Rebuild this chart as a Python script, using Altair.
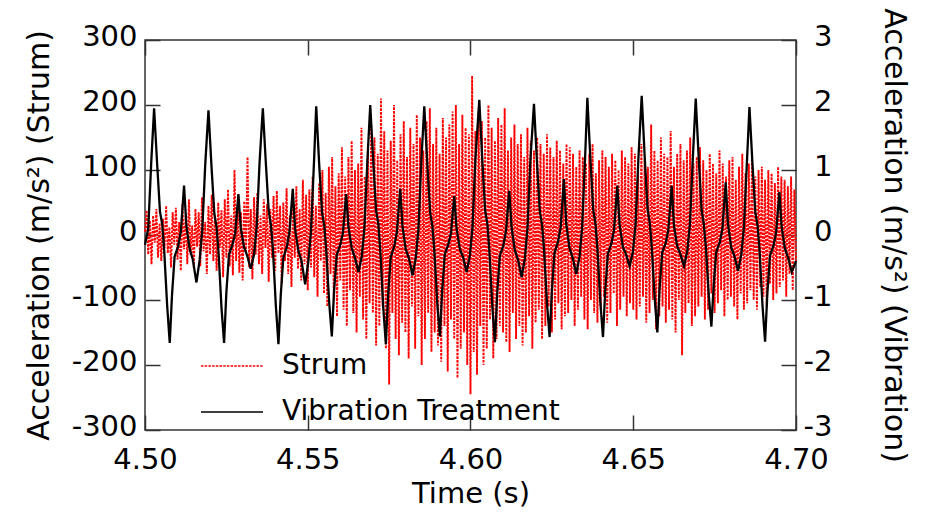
import altair as alt
import pandas as pd

FONT = "DejaVu Sans"

# ---------------- data ----------------
time_ticks = [4.50, 4.55, 4.60, 4.65, 4.70]
strum_ticks = [-300, -200, -100, 0, 100, 200, 300]
vib_ticks = [-3, -2, -1, 0, 1, 2, 3]
series_names = ["Strum", "Vibration Treatment"]
series_colors = ["#ff0000", "#000000"]

# Strum acceleration (m/s^2), read every 0.5 ms from 4.500 s
strum_start = 4.5
strum_step = 0.0005
strum_values = [
    5, 38, -30, 22, -45, 30, -12, 40, -35, 18,
    -40, 25, -20, 45, -28, 12, -50, 35, -15, 42,
    -38, 20, -55, 48, -22, 30, -45, 55, -30, 15,
    -52, 40, -18, 35, -48, 58, -25, 20, -60, 45,
    -30, 62, -40, 25, -55, 50, -20, 38, -65, 55,
    -35, 70, -48, 30, -62, 100, -40, 45, -58, 35,
    -70, 52, -25, 120, -50, 40, -68, 58, -30, 65,
    -45, 30, -60, 55, -20, 48, -72, 40, -35, 60,
    -55, 68, -28, 45, -75, 50, -40, 72, -60, 30,
    -80, 58, -35, 75, -52, 40, -70, 85, -45, 62,
    -85, 70, -50, 90, -65, 45, -95, 80, -40, 100,
    -90, 65, -110, 105, -60, 120, -100, 75, -125, 95,
    -70, 135, -115, 90, -140, 120, -85, 145, -120, 100,
    -150, 110, -95, 165, -130, 90, -160, 140, -105, 170,
    -120, 150, -170, 125, -140, 210, -110, 160, -175, 130,
    -230, 145, -120, 200, -160, 115, -185, 155, -135, 175,
    -150, 120, -190, 165, -110, 140, -175, 185, -125, 150,
    -200, 130, -160, 175, -120, 195, -180, 140, -150, 165,
    -170, 125, -195, 180, -140, 150, -210, 170, -130, 190,
    -160, 200, -220, 140, -175, 185, -150, 165, -200, 155,
    -245, 245, -180, 160, -215, 190, -140, 175, -200, 150,
    -175, 200, -130, 165, -190, 145, -160, 180, -140, 170,
    -150, 195, -165, 130, -180, 150, -120, 170, -160, 140,
    -140, 155, -170, 120, -150, 165, -125, 145, -175, 130,
    -135, 150, -115, 140, -160, 125, -140, 155, -110, 135,
    -150, 120, -130, 145, -105, 130, -145, 110, -125, 140,
    -120, 135, -100, 125, -140, 105, -115, 130, -95, 120,
    -130, 110, -145, 125, -100, 140, -120, 95, -135, 115,
    -110, 130, -95, 120, -135, 105, -120, 125, -90, 115,
    -140, 100, -115, 130, -95, 120, -125, 110, -105, 135,
    -115, 125, -130, 100, -110, 140, -95, 115, -135, 105,
    -120, 170, -100, 130, -145, 115, -125, 150, -110, 125,
    -135, 120, -115, 160, -130, 105, -150, 125, -100, 140,
    -185, 115, -120, 130, -105, 150, -140, 110, -125, 120,
    -110, 135, -95, 115, -130, 100, -115, 125, -90, 110,
    -120, 95, -105, 130, -85, 110, -125, 90, -100, 115,
    -95, 120, -110, 85, -130, 105, -90, 125, -115, 95,
    -105, 110, -85, 120, -100, 90, -115, 100, -80, 105,
    -95, 85, -110, 100, -75, 95, -100, 80, -90, 105,
    -80, 90, -70, 85, -95, 75, -60, 90, -85, 70,
    -40,
]

# Vibration treatment acceleration (m/s^2): vertices of the black trace
vib_time = [
    4.5000, 4.5010, 4.5019,
    4.5028, 4.5037, 4.5046, 4.5053, 4.5059, 4.5068, 4.5076, 4.5083, 4.5091, 4.5102, 4.5110, 4.5120, 4.5127, 4.5137, 4.5147, 4.5158, 4.5168, 4.5176, 4.5185,
    4.5195, 4.5204, 4.5213, 4.5220, 4.5226, 4.5235, 4.5243, 4.5250, 4.5258, 4.5269, 4.5277, 4.5287, 4.5294, 4.5304, 4.5314, 4.5325, 4.5335, 4.5343, 4.5352,
    4.5362, 4.5371, 4.5380, 4.5387, 4.5393, 4.5402, 4.5410, 4.5417, 4.5425, 4.5436, 4.5444, 4.5454, 4.5461, 4.5471, 4.5481, 4.5492, 4.5502, 4.5510, 4.5519,
    4.5526, 4.5535, 4.5544, 4.5551, 4.5557, 4.5566, 4.5574, 4.5581, 4.5589, 4.5600, 4.5608, 4.5618, 4.5625, 4.5635, 4.5645, 4.5656, 4.5666, 4.5674, 4.5683,
    4.5692, 4.5701, 4.5710, 4.5717, 4.5723, 4.5732, 4.5740, 4.5747, 4.5755, 4.5766, 4.5774, 4.5784, 4.5791, 4.5801, 4.5811, 4.5822, 4.5832, 4.5840, 4.5849,
    4.5858, 4.5867, 4.5876, 4.5883, 4.5889, 4.5898, 4.5906, 4.5913, 4.5921, 4.5932, 4.5940, 4.5950, 4.5957, 4.5967, 4.5977, 4.5988, 4.5998, 4.6006, 4.6015,
    4.6027, 4.6036, 4.6045, 4.6052, 4.6058, 4.6067, 4.6075, 4.6082, 4.6090, 4.6101, 4.6109, 4.6119, 4.6126, 4.6136, 4.6146, 4.6157, 4.6167, 4.6175, 4.6184,
    4.6195, 4.6204, 4.6213, 4.6220, 4.6226, 4.6235, 4.6243, 4.6250, 4.6258, 4.6269, 4.6277, 4.6287, 4.6294, 4.6304, 4.6314, 4.6325, 4.6335, 4.6343, 4.6352,
    4.6359, 4.6368, 4.6377, 4.6384, 4.6390, 4.6399, 4.6407, 4.6414, 4.6422, 4.6433, 4.6441, 4.6451, 4.6458, 4.6468, 4.6478, 4.6489, 4.6499, 4.6507, 4.6516,
    4.6526, 4.6535, 4.6544, 4.6551, 4.6557, 4.6566, 4.6574, 4.6581, 4.6589, 4.6600, 4.6608, 4.6618, 4.6625, 4.6635, 4.6645, 4.6656, 4.6666, 4.6674, 4.6683,
    4.6692, 4.6701, 4.6710, 4.6717, 4.6723, 4.6732, 4.6740, 4.6747, 4.6755, 4.6766, 4.6774, 4.6784, 4.6791, 4.6801, 4.6811, 4.6822, 4.6832, 4.6840, 4.6849,
    4.6857, 4.6866, 4.6875, 4.6882, 4.6888, 4.6897, 4.6905, 4.6912, 4.6920, 4.6931, 4.6939, 4.6949, 4.6956, 4.6966, 4.6976, 4.6987, 4.7000,
]
vib_values = [
    -0.15, 0.10, 1.10,
    1.95, 1.12, 0.36, 0.16, -0.24, -1.08, -1.66, -0.92, -0.33, -0.17, 0.05, 0.76, 0.15, -0.21, -0.38, -0.73, -0.38, 0.08, 1.08,
    1.92, 1.08, 0.33, 0.12, -0.27, -1.12, -1.66, -0.88, -0.30, -0.14, 0.02, 0.63, 0.12, -0.18, -0.32, -0.52, -0.30, 0.12, 1.12,
    1.95, 1.13, 0.37, 0.15, -0.22, -1.09, -1.68, -0.93, -0.35, -0.18, 0.06, 0.71, 0.10, -0.24, -0.40, -0.76, -0.40, 0.06, 1.10,
    1.98, 1.10, 0.34, 0.14, -0.25, -1.05, -1.56, -0.85, -0.31, -0.15, 0.03, 0.63, 0.13, -0.20, -0.35, -0.57, -0.33, 0.10, 1.12,
    2.00, 1.15, 0.38, 0.17, -0.26, -1.12, -1.68, -0.91, -0.34, -0.17, 0.05, 0.71, 0.14, -0.22, -0.36, -0.62, -0.35, 0.09, 1.14,
    1.98, 1.12, 0.35, 0.13, -0.24, -1.06, -1.56, -0.86, -0.30, -0.14, 0.02, 0.60, 0.11, -0.21, -0.34, -0.57, -0.32, 0.11, 1.16,
    2.08, 1.18, 0.38, 0.16, -0.25, -1.10, -1.65, -0.90, -0.32, -0.16, 0.06, 0.68, 0.13, -0.23, -0.38, -0.65, -0.36, 0.10, 1.15,
    2.02, 1.14, 0.36, 0.15, -0.23, -1.05, -1.57, -0.86, -0.28, -0.10, 0.12, 0.86, 0.18, -0.20, -0.35, -0.60, -0.33, 0.12, 1.18,
    2.11, 1.20, 0.39, 0.17, -0.22, -1.04, -1.57, -0.85, -0.29, -0.13, 0.08, 0.76, 0.16, -0.18, -0.30, -0.48, -0.26, 0.15, 1.20,
    2.14, 1.22, 0.40, 0.18, -0.20, -0.98, -1.50, -0.82, -0.27, -0.12, 0.09, 0.76, 0.15, -0.17, -0.30, -0.48, -0.25, 0.16, 1.18,
    2.10, 1.19, 0.38, 0.16, -0.18, -0.92, -1.41, -0.78, -0.26, -0.11, 0.10, 0.81, 0.17, -0.19, -0.33, -0.55, -0.30, 0.12, 1.10,
    1.97, 1.12, 0.35, 0.14, -0.24, -1.08, -1.64, -0.90, -0.32, -0.16, 0.04, 0.66, 0.12, -0.21, -0.35, -0.57, -0.40,
]

# ---------------- tables ----------------
strum_time = [round(strum_start + i * strum_step, 4) for i in range(len(strum_values))]
strum_df = pd.DataFrame({"t": strum_time, "a": strum_values, "series": series_names[0]})
vib_df = pd.DataFrame({"t": vib_time, "a": vib_values, "series": series_names[1]})
xt_df = pd.DataFrame({"t": time_ticks})
ys_df = pd.DataFrame({"v": strum_ticks})
yv_df = pd.DataFrame({"v": vib_ticks})

x_scale = alt.Scale(domain=[4.5, 4.7], nice=False, zero=False)
strum_scale = alt.Scale(domain=[-300, 300], nice=False, zero=False)
vib_scale = alt.Scale(domain=[-3, 3], nice=False, zero=False)

hyphen = "replace(datum.label, '\u2212', '-')"

legend = alt.Legend(
    title=None, orient="none", legendX=55, legendY=294,
    symbolType="stroke", symbolSize=3844, symbolStrokeWidth=1.6,
    labelFont=FONT, labelFontSize=28, labelColor="#000000", labelLimit=500,
    labelOffset=18, rowPadding=-22, padding=0,
)
color = alt.Color("series:N", scale=alt.Scale(domain=series_names, range=series_colors), legend=legend)
dash = alt.StrokeDash("series:N", scale=alt.Scale(domain=series_names, range=[[2.5, 1.2], [1, 0]]), legend=legend)

red = alt.Chart(strum_df).mark_line(strokeWidth=1.9).encode(
    x=alt.X("t:Q", scale=x_scale, axis=alt.Axis(
        orient="bottom", values=time_ticks, format=".2f", title="Time (s)",
        ticks=False, tickSize=0, domain=False, grid=False, labelFlush=False,
        labelPadding=15, labelFontSize=29, titleFontSize=29, titlePadding=5)),
    y=alt.Y("a:Q", scale=strum_scale, axis=alt.Axis(
        orient="left", values=strum_ticks, title="Acceleration (m/s²) (Strum)",
        ticks=False, tickSize=0, domain=False, grid=False, labelFlush=False,
        labelExpr=hyphen, labelOffset=-4,
        labelPadding=8, labelFontSize=29, titleFontSize=30, titlePadding=17)),
    color=color,
    strokeDash=dash,
)

black = alt.Chart(vib_df).mark_line(strokeWidth=2.3).encode(
    x=alt.X("t:Q", scale=x_scale, axis=None),
    y=alt.Y("a:Q", scale=vib_scale, axis=alt.Axis(
        orient="right", values=vib_ticks, title="Acceleration (m/s²) (Vibration)",
        ticks=False, tickSize=0, domain=False, grid=False, labelFlush=False,
        labelExpr=hyphen, labelOffset=-4,
        labelAlign="right", labelPadding=36, labelFontSize=29, titleFontSize=30,
        titlePadding=46)),
    color=color,
    strokeDash=dash,
)

tick_style = dict(labels=False, domain=False, grid=False, ticks=True, tickSize=15,
                  offset=-15, title=None, tickColor="#333333", tickWidth=1.5)

top_ticks = alt.Chart(xt_df).mark_point(opacity=0).encode(
    x=alt.X("t:Q", scale=x_scale, axis=alt.Axis(orient="top", values=time_ticks, **tick_style)))
bottom_ticks = alt.Chart(xt_df).mark_point(opacity=0).encode(
    x=alt.X("t:Q", scale=x_scale, axis=alt.Axis(orient="bottom", values=time_ticks, **tick_style)))
left_ticks = alt.Chart(ys_df).mark_point(opacity=0).encode(
    y=alt.Y("v:Q", scale=strum_scale, axis=alt.Axis(orient="left", values=strum_ticks, **tick_style)))
right_ticks = alt.Chart(yv_df).mark_point(opacity=0).encode(
    y=alt.Y("v:Q", scale=vib_scale, axis=alt.Axis(orient="right", values=vib_ticks, **tick_style)))

chart = alt.layer(
    red, black, top_ticks, bottom_ticks, left_ticks, right_ticks
).resolve_scale(
    y="independent"
).resolve_axis(
    x="independent", y="independent"
).properties(
    width=651, height=390,
    autosize=alt.AutoSizeParams(type="none"),
    padding={"left": 137, "top": 32, "right": 120, "bottom": 78},
    background="white",
).configure_view(
    stroke="#333333", strokeWidth=1.5,
).configure_axis(
    labelFont=FONT, titleFont=FONT, labelColor="#000000", titleColor="#000000",
    titleFontWeight="normal", labelOverlap=False,
)

chart.save("out.html", embed_options={"renderer": "svg", "actions": False})
